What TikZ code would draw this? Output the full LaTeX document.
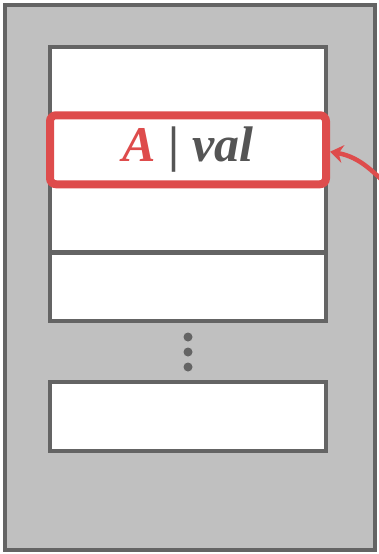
\documentclass[tikz,border=0pt]{standalone}
\usepackage{fontspec}
\setmainfont{Liberation Serif}
\usetikzlibrary{arrows.meta,positioning}
\definecolor{memFrame}{RGB}{100,100,100}
\definecolor{memFill}{RGB}{192,192,192}
\definecolor{memRed}{RGB}{222,76,76}
\definecolor{memInk}{RGB}{85,85,85}

\begin{document}
\begin{tikzpicture}[x=1pt, y=-1pt,
      framebox/.style={rectangle, draw=memFrame, line width=4.5pt, fill=memFill,
        minimum width=370pt, minimum height=545pt, inner sep=0pt, outer sep=0pt},
      slot/.style={rectangle, draw=memFrame, line width=4.5pt, fill=white,
        minimum width=276pt, minimum height=68.5pt, inner sep=0pt, outer sep=0pt},
      hlbox/.style={rectangle, rounded corners=6pt, draw=memRed, line width=8pt,
        minimum width=276pt, minimum height=69pt, inner sep=0pt,
        font=\fontsize{50}{50}\selectfont\bfseries\itshape},
      dot/.style={circle, fill=memFrame, minimum size=9pt, inner sep=0pt},
      arr/.style={-{Stealth[length=13pt, width=18pt]}, line width=4.5pt, draw=memRed},
    ]
    \useasboundingbox (0,0) rectangle (379,554);

    % ---- memory block ----
    \node[framebox] (mem) at (190,277.5) {};

    % ---- table rows ----
    \node[slot] (row1) at (188,81.25) {};
    \node[slot, below=0pt of row1] (row2) {};
    \node[slot, below=0pt of row2] (row3) {};
    \node[slot, below=0pt of row3] (row4) {};
    \foreach \i in {1,2,3}
      \node[dot] (dot\i) at (188,{322+15*\i}) {};
    \node[slot, below=61pt of row4, minimum height=69pt] (last) {};

    % ---- highlighted entry ----
    \node[hlbox] (hl) at (row2)
      {\textcolor{memRed}{A} \textcolor{memInk}{\upshape|} \textcolor{memInk}{val}};

    \coordinate (src) at (396,194);
    \draw[arr] (src) to[out=135, in=-10] ([yshift=-2pt]hl.east);
  \end{tikzpicture}
\end{document}
